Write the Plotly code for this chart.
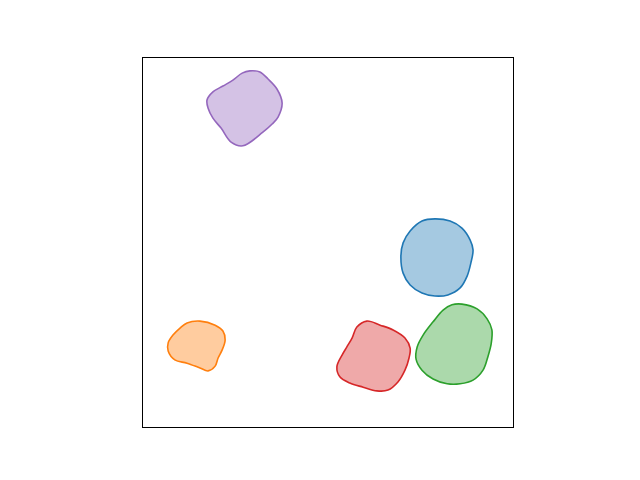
import plotly.graph_objects as go

names = ["blue", "orange", "green", "red", "purple"]
line_colors = ["#1f77b4", "#ff7f0e", "#2ca02c", "#d62728", "#9467bd"]
fill_colors = ["rgba(31,119,180,0.4)", "rgba(255,127,14,0.4)", "rgba(44,160,44,0.4)",
               "rgba(214,39,40,0.4)", "rgba(148,103,189,0.4)"]

blue_x = [0.789, 0.830, 0.862, 0.884, 0.892, 0.886, 0.876, 0.857, 0.824, 0.789, 0.754, 0.722, 0.703, 0.697, 0.703, 0.722, 0.754]
blue_y = [0.564, 0.558, 0.539, 0.507, 0.480, 0.444, 0.409, 0.377, 0.358, 0.355, 0.363, 0.385, 0.417, 0.463, 0.499, 0.531, 0.558]

orange_x = [0.119, 0.154, 0.195, 0.216, 0.222, 0.214, 0.203, 0.195, 0.176, 0.154, 0.119, 0.086, 0.068, 0.068, 0.081, 0.100]
orange_y = [0.282, 0.287, 0.276, 0.260, 0.236, 0.209, 0.187, 0.165, 0.152, 0.160, 0.173, 0.182, 0.206, 0.228, 0.249, 0.268]

green_x = [0.862, 0.903, 0.930, 0.943, 0.941, 0.932, 0.919, 0.892, 0.857, 0.822, 0.784, 0.754, 0.738, 0.741, 0.757, 0.784, 0.811, 0.835]
green_y = [0.333, 0.320, 0.293, 0.263, 0.225, 0.190, 0.154, 0.127, 0.117, 0.117, 0.130, 0.154, 0.184, 0.217, 0.249, 0.285, 0.317, 0.331]

red_x = [0.605, 0.641, 0.676, 0.708, 0.722, 0.719, 0.708, 0.689, 0.662, 0.632, 0.595, 0.559, 0.532, 0.524, 0.538, 0.551, 0.565, 0.578]
red_y = [0.287, 0.276, 0.263, 0.241, 0.214, 0.187, 0.154, 0.122, 0.100, 0.098, 0.108, 0.119, 0.136, 0.163, 0.195, 0.217, 0.241, 0.271]

purple_x = [0.289, 0.316, 0.338, 0.362, 0.376, 0.365, 0.349, 0.324, 0.270, 0.238, 0.211, 0.189, 0.176, 0.173, 0.189, 0.216, 0.243, 0.268]
purple_y = [0.965, 0.962, 0.943, 0.916, 0.878, 0.840, 0.821, 0.799, 0.762, 0.772, 0.810, 0.837, 0.864, 0.886, 0.908, 0.924, 0.940, 0.959]

blobs = [(blue_x, blue_y), (orange_x, orange_y), (green_x, green_y), (red_x, red_y), (purple_x, purple_y)]

fig = go.Figure()
for (bx, by), name, lc, fc in zip(blobs, names, line_colors, fill_colors):
    xs = list(bx) + [bx[0]]
    ys = list(by) + [by[0]]
    fig.add_trace(go.Scatter(
        x=xs, y=ys, mode="lines", name=name,
        line=dict(color=lc, width=1.6, shape="spline", smoothing=1.0),
        fill="toself", fillcolor=fc, hoverinfo="skip", showlegend=False,
    ))

axis_common = dict(range=[0, 1], showgrid=False, zeroline=False, showticklabels=False,
                   ticks="", showline=True, linecolor="black", linewidth=1, mirror=True)
fig.update_layout(
    width=640, height=480,
    margin=dict(l=143, r=127, t=58, b=53),
    paper_bgcolor="white", plot_bgcolor="white",
    xaxis=axis_common, yaxis=axis_common,
)
fig.write_html("out.html")
